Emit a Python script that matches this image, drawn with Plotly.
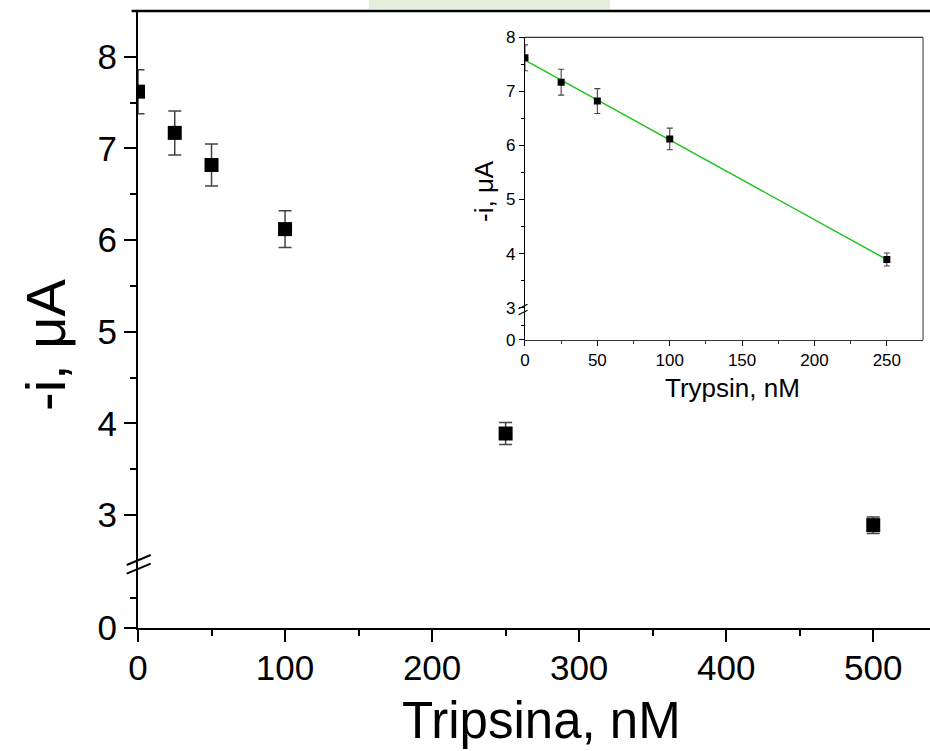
import numpy as np
import plotly.graph_objects as go

# ---------------- data ----------------
trypsin_main = [0, 25, 50, 100, 250, 500]
current_main = [7.62, 7.17, 6.82, 6.12, 3.89, 2.89]
err_main = [0.24, 0.24, 0.23, 0.20, 0.12, 0.09]

trypsin_inset = [0, 25, 50, 100, 250]
current_inset = [7.62, 7.17, 6.82, 6.12, 3.89]
err_inset = [0.24, 0.24, 0.23, 0.20, 0.12]

main_x_ticks = [0, 100, 200, 300, 400, 500]
main_y_ticks = [3, 4, 5, 6, 7, 8]
inset_x_ticks = [0, 50, 100, 150, 200, 250]
inset_y_ticks = [3, 4, 5, 6, 7, 8]

# linear fit for the inset
slope, intercept = np.polyfit(trypsin_inset, current_inset, 1)
fit_x = [min(trypsin_inset), max(trypsin_inset)]
fit_y = [intercept + slope * v for v in fit_x]

FONT = "Liberation Sans, Arial, sans-serif"

fig = go.Figure()

# main data
fig.add_trace(go.Scatter(
    x=trypsin_main, y=current_main, mode="markers", cliponaxis=True,
    marker=dict(symbol="square", size=14, color="black"),
    error_y=dict(type="data", array=err_main, color="#444", thickness=1.5, width=6.5),
    xaxis="x", yaxis="y", showlegend=False, hoverinfo="skip"))
# dummy for lower main segment
fig.add_trace(go.Scatter(x=[None], y=[None], xaxis="x", yaxis="y2", showlegend=False))

# inset fit line
fig.add_trace(go.Scatter(
    x=fit_x, y=fit_y, mode="lines", line=dict(color="#22c422", width=1.5),
    xaxis="x3", yaxis="y3", showlegend=False, hoverinfo="skip"))
# inset data
fig.add_trace(go.Scatter(
    x=trypsin_inset, y=current_inset, mode="markers", cliponaxis=True,
    marker=dict(symbol="square", size=7, color="black"),
    error_y=dict(type="data", array=err_inset, color="#444", thickness=1.1, width=3),
    xaxis="x3", yaxis="y3", showlegend=False, hoverinfo="skip"))
fig.add_trace(go.Scatter(x=[None], y=[None], xaxis="x3", yaxis="y4", showlegend=False))

# geometry (paper coords)
MAIN_BREAK = 0.1037
IN_X0, IN_X1 = 0.4886, 0.9912
IN_Y0, IN_BREAK, IN_Y1 = 0.4668, 0.5122, 0.9574

main_tick = dict(size=35, color="black", family=FONT)
inset_tick = dict(size=17, color="black", family=FONT)

def ax(**kw):
    base = dict(showgrid=False, zeroline=False, showline=True, linecolor="black",
                ticks="outside", tickcolor="black")
    base.update(kw)
    return base

fig.update_layout(
    width=930, height=751,
    margin=dict(l=138, r=0, t=11, b=123, pad=0),
    paper_bgcolor="white", plot_bgcolor="rgba(0,0,0,0)",
    font=dict(family=FONT, color="black"),
    xaxis=ax(domain=[0, 1], range=[0, 538.6], anchor="y2",
             linewidth=2.2, tickwidth=2, ticklen=12, ticklabelstandoff=-4,
             tickmode="array", tickvals=main_x_ticks, tickfont=main_tick,
             minor=dict(tickmode="array", tickvals=[50, 150, 250, 350, 450],
                        ticklen=6, tickwidth=2, tickcolor="black", ticks="outside")),
    yaxis=ax(domain=[MAIN_BREAK, 1], range=[2.466, 8.5], anchor="x",
             linewidth=2.2, tickwidth=2, ticklen=12,
             tickmode="array", tickvals=main_y_ticks, tickfont=main_tick,
             minor=dict(tickmode="array", tickvals=[3.5, 4.5, 5.5, 6.5, 7.5],
                        ticklen=6, tickwidth=2, tickcolor="black", ticks="outside")),
    yaxis2=ax(domain=[0, MAIN_BREAK], range=[0, 1.0667], anchor="x",
              linewidth=2.2, tickwidth=2, ticklen=12,
              tickmode="array", tickvals=[0], tickfont=main_tick,
              minor=dict(tickmode="array", tickvals=[0.5],
                         ticklen=6, tickwidth=2, tickcolor="black", ticks="outside")),
    xaxis3=ax(domain=[IN_X0, IN_X1], range=[0, 275], anchor="y4",
              linewidth=1.2, linecolor="#333", tickwidth=1, ticklen=5,
              tickmode="array", tickvals=inset_x_ticks, tickfont=inset_tick,
              minor=dict(tickmode="array", tickvals=[25, 75, 125, 175, 225],
                         ticklen=3, tickwidth=1, tickcolor="#333", ticks="outside")),
    yaxis3=ax(domain=[IN_BREAK, IN_Y1], range=[2.92, 8], anchor="x3",
              linewidth=1.2, tickwidth=1, ticklen=5,
              tickmode="array", tickvals=inset_y_ticks, tickfont=inset_tick,
              minor=dict(tickmode="array", tickvals=[3.5, 4.5, 5.5, 6.5, 7.5],
                         ticklen=3, tickwidth=1, tickcolor="black", ticks="outside")),
    yaxis4=ax(domain=[IN_Y0, IN_BREAK], range=[0, 1], anchor="x3",
              linewidth=1.2, tickwidth=1, ticklen=5,
              tickmode="array", tickvals=[0], tickfont=inset_tick,
              minor=dict(tickmode="array", tickvals=[0.5],
                         ticklen=3, tickwidth=1, tickcolor="black", ticks="outside")),
)

PW, PH = 792.0, 617.0
shapes = []
# main top border
shapes.append(dict(type="line", xref="paper", yref="paper", x0=-0.008, x1=1, y0=1, y1=1,
                   line=dict(color="black", width=2.5)))
# green band at top
shapes.append(dict(type="rect", xref="paper", yref="paper", x0=0.2917, x1=0.596,
                   y0=1.0037, y1=1.02, fillcolor="#e2efda", line=dict(width=0), layer="below"))
# inset border (top and right)
shapes.append(dict(type="line", xref="paper", yref="paper", x0=IN_X0, x1=IN_X1, y0=IN_Y1, y1=IN_Y1,
                   line=dict(color="#333", width=1.2)))
shapes.append(dict(type="line", xref="paper", yref="paper", x0=IN_X1, x1=IN_X1, y0=IN_Y0, y1=IN_Y1,
                   line=dict(color="#555", width=1.2)))

def slash(cx_px, cy_px, dx, dy, w):
    return dict(type="line", xref="paper", yref="paper",
                x0=(cx_px - dx) / PW, x1=(cx_px + dx) / PW,
                y0=1 - (cy_px + dy - 11) / PH, y1=1 - (cy_px - dy - 11) / PH,
                line=dict(color="black", width=w))
shapes.append(slash(138.7 - 138, 560, 12, 5, 2))
shapes.append(slash(138.7 - 138, 568.7, 12, 5, 2))
shapes.append(slash(523 - 138, 306.5, 4.5, 2.2, 1.1))
shapes.append(slash(523 - 138, 312.5, 4.5, 2.2, 1.1))

fig.update_layout(shapes=shapes)

ann = [
    dict(text="Tripsina, nM", x=(541 - 138) / PW, y=(628 - 720) / PH, xref="paper", yref="paper",
         showarrow=False, xanchor="center", yanchor="middle",
         font=dict(size=51, family=FONT, color="black")),
    dict(text="-i, μA", x=(45 - 138) / PW, y=(628 - 345) / PH, xref="paper", yref="paper",
         showarrow=False, xanchor="center", yanchor="middle", textangle=-90,
         font=dict(size=56, family=FONT, color="black")),
    dict(text="Trypsin, nM", x=(732.5 - 138) / PW, y=(628 - 388.5) / PH, xref="paper", yref="paper",
         showarrow=False, xanchor="center", yanchor="middle",
         font=dict(size=26, family=FONT, color="black")),
    dict(text="-i, μA", x=(484 - 138) / PW, y=(628 - 191) / PH, xref="paper", yref="paper",
         showarrow=False, xanchor="center", yanchor="middle", textangle=-90,
         font=dict(size=26, family=FONT, color="black")),
]
fig.update_layout(annotations=ann)

fig.write_html("out.html", config={"displayModeBar": False},
               post_script="document.body.style.margin='0px';document.body.style.overflow='hidden';")
